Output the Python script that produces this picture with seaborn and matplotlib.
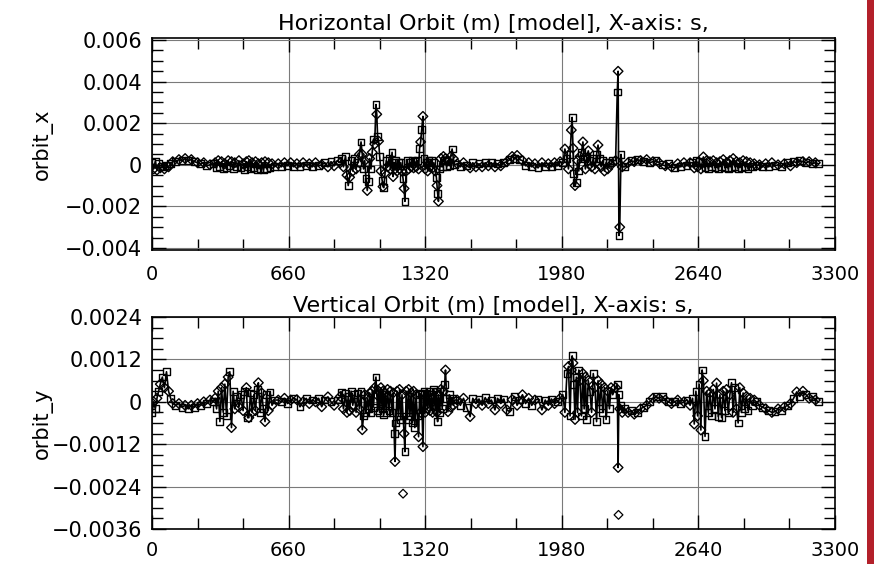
import numpy as np
import pandas as pd
import matplotlib
matplotlib.use("Agg")
import matplotlib.pyplot as plt
import seaborn as sns
from matplotlib.ticker import MultipleLocator, FixedLocator, FixedFormatter
from matplotlib.patches import Rectangle

# ---------------- data (s in m, orbits in micrometres) ----------------
s_pos = [
    0, 8, 16, 24, 32, 40, 50, 60, 70, 80, 90, 100,
    115, 130, 145, 160, 175, 190, 205, 220, 235, 250, 265, 280, 295,
    305, 312, 320, 328, 336, 344, 352, 360, 368, 376, 384, 392, 400, 410, 420, 430, 440, 448, 456, 462,
    468, 476, 484, 492, 500, 508, 514, 522, 530, 538, 546, 554, 562, 570, 580, 592,
    610, 625, 640, 655, 670, 685, 700, 715, 730, 745, 760, 775, 790, 805, 820, 835, 850, 865, 880, 895, 910,
    915, 925, 935, 942, 948, 955, 962, 970, 978, 986,
    994, 1002, 1010, 1016, 1022, 1028, 1034, 1040, 1046, 1052,
    1058, 1064, 1070, 1076, 1082, 1086, 1090, 1095, 1100, 1106,
    1112, 1116, 1120, 1126, 1132, 1138, 1145, 1152, 1160, 1165,
    1170, 1174, 1178, 1184, 1190, 1196, 1202, 1208, 1213, 1218,
    1222, 1228, 1234, 1240, 1246, 1252, 1258, 1264, 1270, 1276,
    1282, 1288, 1293, 1298, 1303, 1309, 1314, 1320, 1326, 1332,
    1338, 1344, 1350, 1356, 1362, 1368, 1374, 1377, 1380, 1384,
    1390, 1396, 1402, 1408, 1414, 1418, 1424, 1430, 1436, 1443,
    1450, 1456, 1462,
    1475, 1490, 1505, 1520, 1537, 1550, 1565, 1580, 1595, 1610, 1625, 1640, 1657, 1670, 1685,
    1700, 1715, 1728, 1740, 1752, 1764, 1776, 1790, 1805, 1820, 1835, 1850, 1865, 1884, 1900,
    1915, 1930, 1945, 1960, 1972,
    1985, 1995, 2005, 2012, 2020, 2026, 2030, 2034, 2038, 2044, 2050, 2056, 2062, 2068, 2075,
    2082, 2088, 2094, 2100, 2108, 2116, 2124, 2132, 2140, 2148, 2155, 2162, 2170, 2178, 2186,
    2194, 2202, 2210, 2218, 2226,
    2240, 2248, 2252, 2256, 2260, 2266, 2272,
    2285, 2300, 2315, 2330, 2345, 2360, 2375, 2390, 2405, 2420, 2435, 2450, 2465, 2480, 2495,
    2510, 2525, 2540, 2555, 2570, 2585, 2600,
    2612, 2620, 2628, 2636, 2644, 2652, 2658, 2664, 2672, 2680, 2688, 2696, 2704, 2712, 2720,
    2728, 2736, 2744, 2752, 2760, 2768, 2776, 2784, 2792, 2800, 2808, 2816, 2824, 2832, 2840,
    2848, 2856, 2864, 2872, 2880, 2890, 2900, 2910, 2920,
    2935, 2950, 2965, 2980, 2995, 3010, 3025, 3040, 3055, 3070, 3085, 3100, 3115, 3130, 3145,
    3160, 3175, 3190, 3205, 3220,
]

orbit_x_um = [
    100, -200, 150, -250, 50, -150, -100, -200, -50, -100, 50, 150,
    150, 250, 200, 300, 200, 250, 150, 100, 50, 100, -50, 0, 50,
    100, -150, 200, -100, 150, -200, 50, -150, 200, -50, 150, -200, 100, -100, 200, -150, 50, -250, 150, -100,
    200, -200, 100, -150, 150, -250, 50, -200, 100, -250, 150, -200, 100, -150, 50, -100,
    50, -100, 100, -50, 100, -100, 50, -100, 100, -50, 50, -100, 100, -50, 0, 100, -100, 150, -50, 200, 100,
    300, -100, 400, -500, -1000, -600, 200, -300, 300, -200,
    100, 500, 1100, 500, -200, 200, -670, -1240, -800, 300,
    -200, 600, 1240, 1000, 2900, 2430, 1380, 1140, 400, -300,
    -750, -1050, -1100, -400, 200, -100, 300, -200, 600, -570,
    100, -200, 200, -300, 100, -200, 100, -300, -670, -1140,
    -1760, -300, 200, -200, 100, -100, 200, -150, 150, -100,
    200, -200, 800, 1100, 1700, 2330, 300, -200, 100, -300,
    200, -100, 200, -150, 100, -300, -600, -1000, -1380, -1760,
    -200, 300, -100, 400, 200, 300, -100, 200, -50, 400,
    760, 300, 0,
    50, -100, 100, -50, -150, 100, -100, 50, -100, 100, -50, 100, -100, 50, -50,
    100, 150, 250, 400, 300, 450, 250, 200, -50, 100, -100, 50, -150, 100, -100,
    50, -100, 100, -50, 150,
    100, 760, 300, -200, 500, 1670, 2280, 800, -400, -1000, -850, 200, -300, 400, 600,
    1100, 300, -200, 400, 670, 200, -100, 300, -200, 500, 950, 300, -100, 200, -300,
    100, -200, 100, 0, 200,
    200, 3500, 4500, -3400, -3000, 500, -100,
    -100, 100, 200, 150, 250, 200, 150, 250, 100, 150, 200, 100, 0, -50, 50,
    -100, -150, 50, -100, 100, -50, 100,
    100, -150, 200, -100, 150, -200, 100, 380, -150, 200, -200, 150, -100, 200, -150,
    100, -200, 150, -100, 250, -150, 100, -200, 200, -150, 300, -100, 150, -200, 100,
    -150, 200, -100, 150, -200, 100, -100, 50, -50,
    0, -100, 50, -100, 100, -50, 0, -100, 50, 100, -50, 150, 100, 200, 150,
    100, 150, 50, 100, 50,
]

orbit_y_um = [
    -300, 0, -200, 100, 300, 500, 700, 400, 850, 300, 100, -50,
    -100, -50, -150, -100, -200, -100, -150, -50, -100, 0, -50, 50, 0,
    100, -200, 300, -560, 400, -300, 500, -400, 700, 850, -730, 300, -200, 150, -150, 200, -250, 300, 400, -450,
    -450, 250, -300, 200, -250, 350, 540, -300, 250, -200, -560, 200, -250, 280, -100, 50,
    50, 0, 100, -50, 50, 100, 60, -140, 0, 100, -50, 50, 0, 100, -140, 50, 140, 0, -100, 50, 150,
    280, -200, 250, -300, 150, -250, 300, -100, 200, -300,
    250, -200, 300, -790, -400, 200, -300, 100, -200, 250,
    -300, 300, -150, 400, 700, 200, -250, 300, -300, 400,
    -200, 300, -350, 250, -300, 350, -250, 300, -300, 250,
    -900, -1690, -600, 300, -400, 350, -500, 200, -400, -900,
    -1410, 300, -500, 350, -400, 250, -600, 300, -730, 200,
    -400, -990, 250, -300, 200, -1270, 300, -300, 250, -200,
    300, -250, 200, -300, 350, -200, 300, -300, -560, 200,
    -300, 350, -200, 300, 500, 900, 100, -280, 200, -150,
    100, -100, 50,
    50, -100, 100, -150, -420, 100, -50, 80, -100, 120, -50, 50, -230, 100, -50,
    80, -230, -280, 60, 150, -100, 50, 200, -50, 100, -100, 50, 80, -230, 50,
    -100, 80, -50, 0, 100,
    200, -300, 800, 1000, -400, 900, 1300, 1100, 500, -500, 700, -300, 900, 600, -400,
    800, -200, 700, -500, 600, 300, -300, 800, 400, -560, 600, -200, 500, -300, 400,
    -500, 300, -200, 400, 200,
    400, 500, -1860, 200, -200, -100, -300,
    -200, -300, -250, -350, -300, -200, -150, -100, 0, 100, 150, 100, 150, 50, 0,
    -50, 0, 50, -50, 0, 50, -100,
    100, -630, 300, -400, 500, -800, 900, 600, -980, 300, -300, 250, -400, 350, -200,
    530, -420, 200, -450, 300, -250, 350, -300, 200, 540, -300, 400, -200, -600, 400,
    -300, 250, -200, 150, -250, 100, -100, 50, 0,
    -100, -150, -200, -250, -300, -280, -200, -250, -150, -100, -50, 100, 280, 150, 300,
    200, 100, 150, 50, 0,
]

# isolated vertical-orbit readings (no connecting line)
outlier_s = [1213, 2254]
outlier_y_um = [-2600, -3200]

x_ticks = [0, 660, 1320, 1980, 2640, 3300]
x_tick_labels = ["0", "660", "1320", "1980", "2640", "3300"]
top_yticks = [-0.004, -0.002, 0.0, 0.002, 0.004, 0.006]
top_ylabels = ["\u22120.004", "\u22120.002", "0", "0.002", "0.004", "0.006"]
bot_yticks = [-0.0036, -0.0024, -0.0012, 0.0, 0.0012, 0.0024]
bot_ylabels = ["\u22120.0036", "\u22120.0024", "\u22120.0012", "0", "0.0012", "0.0024"]
titles = ["Horizontal Orbit (m) [model], X-axis: s,",
          "Vertical Orbit (m) [model], X-axis: s,"]
ylabels = ["orbit_x", "orbit_y"]

# ---------------- figure ----------------
sns.set_theme(style="white")
plt.rcParams["font.family"] = ["DejaVu Sans"]

W, H = 879, 564
fig = plt.figure(figsize=(W / 100, H / 100), dpi=100)
fig.patch.set_facecolor("white")

ax1 = fig.add_axes([152 / W, 1 - 250 / H, 683 / W, 212 / H])
ax2 = fig.add_axes([152 / W, 1 - 529 / H, 683 / W, 212 / H])

df = pd.DataFrame({
    "s": s_pos,
    "orbit_x": np.array(orbit_x_um) / 1e6,
    "orbit_y": np.array(orbit_y_um) / 1e6,
})
df["kind"] = np.where(np.arange(len(df)) % 2 == 0, "quad", "bpm")
out_df = pd.DataFrame({"s": outlier_s, "orbit_y": np.array(outlier_y_um) / 1e6,
                       "kind": ["bpm", "bpm"]})

marker_map = {"quad": "s", "bpm": "D"}

specs = [
    (ax1, "orbit_x", (-0.0041, 0.0061), top_yticks, top_ylabels, 0.0005, titles[0], ylabels[0], 5.5, 11),
    (ax2, "orbit_y", (-0.0036, 0.0024), bot_yticks, bot_ylabels, 0.0003, titles[1], ylabels[1], 3.5, 8.5),
]

for ax, col, ylim, yt, ytl, yminor, title, ylab, tpad, xpad in specs:
    ax.set_facecolor("white")
    sns.lineplot(data=df, x="s", y=col, sort=False, estimator=None,
                 color="black", lw=1.2, ax=ax, zorder=3)
    sns.scatterplot(data=df, x="s", y=col, style="kind", markers=marker_map,
                    s=24, color="black", linewidth=1.0, legend=False, ax=ax, zorder=4)
    coll = ax.collections[-1]
    coll.set_facecolor("none")
    coll.set_edgecolor("black")
    if col == "orbit_y":
        sns.scatterplot(data=out_df, x="s", y=col, style="kind", markers=marker_map,
                        s=20, color="black", linewidth=0.9, legend=False, ax=ax, zorder=4)
        c2 = ax.collections[-1]
        c2.set_facecolor("none")
        c2.set_edgecolor("black")

    ax.set_xlim(0, 3300)
    ax.set_ylim(*ylim)
    ax.xaxis.set_major_locator(FixedLocator(x_ticks))
    ax.xaxis.set_major_formatter(FixedFormatter(x_tick_labels))
    ax.xaxis.set_minor_locator(MultipleLocator(220))
    ax.yaxis.set_major_locator(FixedLocator(yt))
    ax.yaxis.set_major_formatter(FixedFormatter(ytl))
    ax.yaxis.set_minor_locator(MultipleLocator(yminor))

    ax.grid(True, which="major", color="#7a7a7a", lw=0.8)
    ax.set_axisbelow(True)
    ax.tick_params(which="both", direction="in", top=True, right=True,
                   left=True, bottom=True, colors="black")
    ax.tick_params(which="major", length=10, width=1.0)
    ax.tick_params(which="minor", length=8, width=1.0)
    ax.tick_params(axis="y", which="major", pad=7, labelsize=15)
    ax.tick_params(axis="x", which="major", pad=xpad, labelsize=14)
    for sp in ax.spines.values():
        sp.set_visible(True)
        sp.set_color("black")
        sp.set_linewidth(1.2)

    ax.set_xlabel("")
    ax.set_ylabel(ylab, fontsize=15, color="black")
    ax.yaxis.set_label_coords(-0.145, 0.5)
    ax.set_title(title, fontsize=16, color="black", pad=tpad)

# red edge bar on the right
fig.add_artist(Rectangle((867 / W, 0), 7 / W, 1, transform=fig.transFigure,
                         facecolor="#b3202a", edgecolor="none"))

fig.savefig("out.png", dpi=100, facecolor="white")
